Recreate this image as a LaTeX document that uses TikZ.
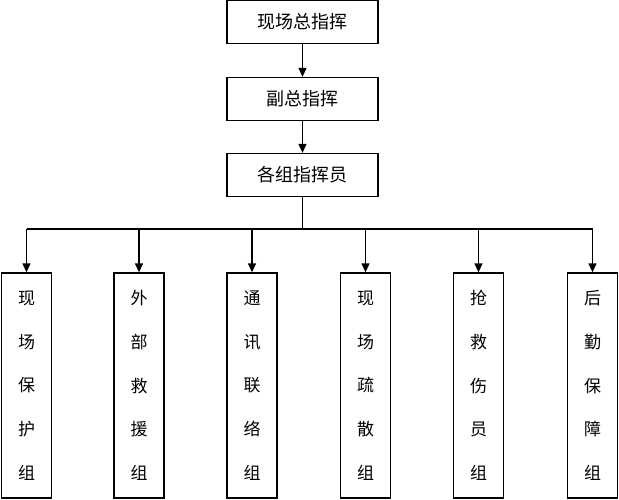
\documentclass[tikz,border=0pt]{standalone}
\usepackage{fontspec}
\newfontfamily\cjk{Noto Sans CJK SC}
\usetikzlibrary{arrows.meta}
\begin{document}
\begin{tikzpicture}[x=1pt,y=-1pt,
  box/.style={draw=black,line width=1.3pt,fill=white,inner sep=0pt,font=\cjk\fontsize{18}{18}\selectfont},
  topbox/.style={box,minimum width=151pt,minimum height=43pt},
  colbox/.style={box,minimum width=50pt,minimum height=225pt,align=center,font=\cjk\fontsize{17}{43.7}\selectfont},
  arr/.style={line width=1.3pt,-{Triangle[length=9pt,width=8pt]}},
  ln/.style={line width=1.3pt}]
\useasboundingbox (0,0) rectangle (619,500);
\node[topbox] (a) at (302.5,22) {现场总指挥};
\node[topbox] (b) at (302.5,99) {副总指挥};
\node[topbox] (c) at (302.5,175) {各组指挥员};
\draw[arr] (a) -- (b);
\draw[arr] (b) -- (c);
\foreach \n/\x/\t in {g1/26.5/{现\\场\\保\\护\\组},g2/139/{外\\部\\救\\援\\组},g3/252/{通\\讯\\联\\络\\组},g4/365.5/{现\\场\\疏\\散\\组},g5/478.5/{抢\\救\\伤\\员\\组},g6/592.5/{后\\勤\\保\\障\\组}}{
  \node[colbox] (\n) at (\x,385.5) {\t};
}
\coordinate (j) at (302.5,229);
\draw[ln] (c.south) -- (j);
\draw[ln] (g1.north |- j) -- (g6.north |- j);
\foreach \n in {g1,g2,g3,g4,g5,g6}{
  \draw[arr] (\n.north |- j) -- (\n.north);
}
\end{tikzpicture}
\end{document}
